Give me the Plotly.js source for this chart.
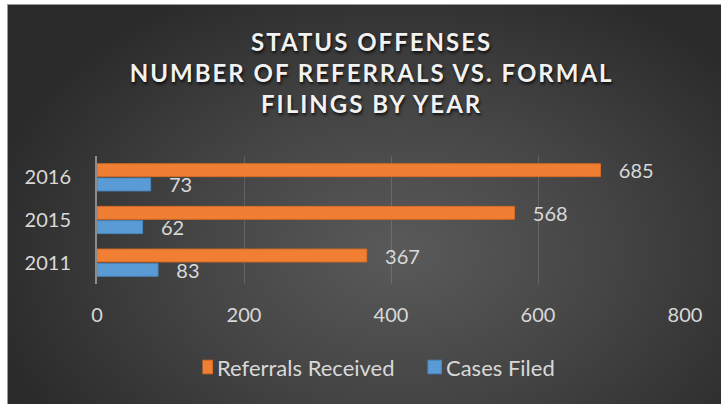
<!DOCTYPE html>
<html>
<head>
<meta charset="utf-8">
<script src="https://cdn.plot.ly/plotly-3.0.1.min.js"></script>
<style>
  html, body { margin: 0; padding: 0; background: #ffffff; width: 721px; height: 404px; overflow: hidden; }
  #frame { position: absolute; left: 7px; top: 4px; width: 714px; height: 400px; background: #9a9a9a; }
  #chart { position: absolute; left: 8px; top: 5px; width: 713px; height: 399px;
    background: radial-gradient(ellipse 60% 75% at 55% 62%, #5a5a5a 0%, #444444 50%, #2a2a2a 100%); }
  #chart .gtitle { letter-spacing: 2px; }
</style>
</head>
<body>
<div id="frame"></div>
<div id="chart"></div>
<script>
const years = ['2011', '2015', '2016'];
const referralsReceived = [367, 568, 685];
const casesFiled = [83, 62, 73];
const xTickValues = [0, 200, 400, 600, 800];

const labelFont = { family: 'Lato, "Open Sans", sans-serif', size: 20, color: '#d9d9d9' };

const traces = [
  {
    type: 'bar', orientation: 'h', name: 'Cases Filed',
    y: years, x: casesFiled,
    marker: { color: '#5b9bd5', line: { color: '#4a87c0', width: 1 } },
    texttemplate: '\u00a0\u00a0\u00a0%{x}', textposition: 'outside', constraintext: 'none',
    textfont: labelFont, cliponaxis: false, hoverinfo: 'none'
  },
  {
    type: 'bar', orientation: 'h', name: 'Referrals Received',
    y: years, x: referralsReceived,
    marker: { color: '#f07f34', line: { color: '#d86c25', width: 1 } },
    texttemplate: '\u00a0\u00a0\u00a0%{x}', textposition: 'outside', constraintext: 'none',
    textfont: labelFont, cliponaxis: false, hoverinfo: 'none'
  }
];

const layout = {
  width: 713, height: 399,
  paper_bgcolor: 'rgba(0,0,0,0)', plot_bgcolor: 'rgba(0,0,0,0)',
  margin: { l: 89, r: 36, t: 151, b: 120 },
  barmode: 'group', bargap: 0.33, bargroupgap: 0.1,
  showlegend: true,
  font: labelFont,
  title: {
    text: 'STATUS OFFENSES<br>NUMBER OF REFERRALS VS. FORMAL<br>FILINGS BY YEAR',
    font: { family: 'Lato, "Open Sans", sans-serif', size: 24, weight: 700, color: '#f2f2f2',
            shadow: '1px 2px 3px rgba(0,0,0,0.8)' },
    x: 0.51, xanchor: 'center', xref: 'container',
    y: 0.885, yanchor: 'top', yref: 'container'
  },
  xaxis: {
    range: [0, 800], tickvals: xTickValues, ticktext: xTickValues.map(String),
    showgrid: true, gridcolor: 'rgba(255,255,255,0.14)', gridwidth: 1,
    zeroline: false, showline: false, ticks: '',
    tickfont: labelFont, ticklabelstandoff: 17, fixedrange: true
  },
  yaxis: {
    type: 'category', categoryorder: 'array', categoryarray: years,
    showgrid: false, zeroline: false,
    showline: true, linecolor: '#8c8c8c', linewidth: 2,
    ticks: '', tickfont: labelFont, ticklabelstandoff: 20, fixedrange: true
  },
  legend: {
    orientation: 'h', x: 0.5, xanchor: 'center', xref: 'paper',
    y: -0.65, yanchor: 'middle', traceorder: 'reversed',
    font: Object.assign({}, labelFont, { size: 22 }), itemwidth: 30, bgcolor: 'rgba(0,0,0,0)'
  }
};

// legend placement (page px)
const legendTargets = {
  'Referrals Received': { sym: 199, text: 217 },
  'Cases Filed': { sym: 428, text: 446 }
};

Plotly.newPlot('chart', traces, layout, { displayModeBar: false, staticPlot: true }).then(function (gd) {
  gd.querySelectorAll('.legend .traces').forEach(function (g) {
    const t = g.querySelector('text.legendtext');
    const sym = g.querySelector('.legendpoints path');
    if (!t || !sym) return;
    const target = legendTargets[t.textContent];
    if (!target) return;
    const st = sym.getAttribute('transform') || '';
    sym.setAttribute('transform', (st + ' scale(1.12)').trim());
    const m = /translate\(\s*([-\d.]+)[ ,]+([-\d.]+)\s*\)/.exec(g.getAttribute('transform') || '');
    const tx = m ? parseFloat(m[1]) : 0, ty = m ? parseFloat(m[2]) : 0;
    const dx = target.sym - sym.getBoundingClientRect().left;
    g.setAttribute('transform', 'translate(' + (tx + dx) + ',' + ty + ')');
    const tdx = target.text - t.getBoundingClientRect().left;
    t.setAttribute('x', parseFloat(t.getAttribute('x') || 0) + tdx);
  });
});
</script>
</body>
</html>
